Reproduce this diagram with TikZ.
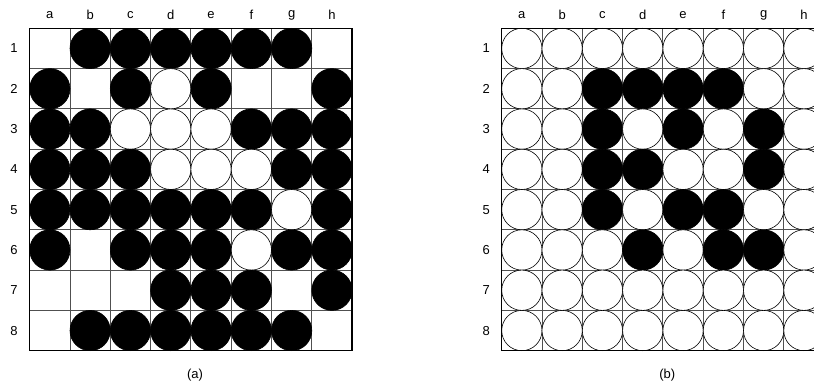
\documentclass[tikz,border=0pt]{standalone}
\usepackage{fontspec}
\setmainfont{Liberation Sans}
\definecolor{gridgray}{HTML}{505050}
\tikzset{
  blackpiece/.style={circle,draw=black,fill=black,line width=0.6pt,inner sep=0pt,minimum size=40.3pt},
  whitepiece/.style={circle,draw=black,fill=white,line width=0.6pt,inner sep=0pt,minimum size=40.3pt},
  gridline/.style={draw=gridgray,line width=0.9pt},
  border/.style={draw=black,line width=1.3pt},
  lbl/.style={font=\fontsize{13}{15}\selectfont,inner sep=0pt},
  captiontext/.style={font=\fontsize{13}{15}\selectfont,inner sep=0pt}
}
\begin{document}
\begin{tikzpicture}[x=1pt,y=-1pt]
\useasboundingbox (0,0) rectangle (814,385);
\clip (0,0) rectangle (814,385);
\def\cs{40.3}
% ---------- board (a) ----------
\def\xa{29.7}
\def\ya{28.3}
\foreach \i in {1,...,7}{
  \draw[gridline] (\xa+\i*\cs,\ya) -- (\xa+\i*\cs,\ya+8*\cs);
  \draw[gridline] (\xa,\ya+\i*\cs) -- (\xa+8*\cs,\ya+\i*\cs);
}
\foreach \r/\row in {1/{0,1,1,1,1,1,1,0},2/{1,0,1,2,1,0,0,1},3/{1,1,2,2,2,1,1,1},4/{1,1,1,2,2,2,1,1},5/{1,1,1,1,1,1,2,1},6/{1,0,1,1,1,2,1,1},7/{0,0,0,1,1,1,0,1},8/{0,1,1,1,1,1,1,0}}{
  \foreach \v [count=\c] in \row {
    \ifnum\v=1 \node[blackpiece] (A-\c-\r) at (\xa+\c*\cs-0.5*\cs,\ya+\r*\cs-0.5*\cs) {};\fi
    \ifnum\v=2 \node[whitepiece] (A-\c-\r) at (\xa+\c*\cs-0.5*\cs,\ya+\r*\cs-0.5*\cs) {};\fi
  }
}
\draw[border] (\xa,\ya) rectangle (\xa+8*\cs,\ya+8*\cs);
\foreach \l [count=\c] in {a,b,c,d,e,f,g,h}{
  \node[lbl] (AC-\c) at (\xa+\c*\cs-0.5*\cs,15) {\l};
}
\foreach \r in {1,...,8}{
  \node[lbl] (AR-\r) at (14,\ya+\r*\cs-0.5*\cs) {\r};
}
\node[captiontext] (capa) at (195,375) {(a)};
% ---------- board (b) ----------
\def\xb{501.7}
\foreach \i in {1,...,7}{
  \draw[gridline] (\xb+\i*\cs,\ya) -- (\xb+\i*\cs,\ya+8*\cs);
  \draw[gridline] (\xb,\ya+\i*\cs) -- (\xb+8*\cs,\ya+\i*\cs);
}
\foreach \r/\row in {1/{2,2,2,2,2,2,2,2},2/{2,2,1,1,1,1,2,2},3/{2,2,1,2,1,2,1,2},4/{2,2,1,1,2,2,1,2},5/{2,2,1,2,1,1,2,2},6/{2,2,2,1,2,1,1,2},7/{2,2,2,2,2,2,2,2},8/{2,2,2,2,2,2,2,2}}{
  \foreach \v [count=\c] in \row {
    \ifnum\v=1 \node[blackpiece] (B-\c-\r) at (\xb+\c*\cs-0.5*\cs,\ya+\r*\cs-0.5*\cs) {};\fi
    \ifnum\v=2 \node[whitepiece] (B-\c-\r) at (\xb+\c*\cs-0.5*\cs,\ya+\r*\cs-0.5*\cs) {};\fi
  }
}
\draw[border] (\xb,\ya) rectangle (\xb+8*\cs,\ya+8*\cs);
\foreach \l [count=\c] in {a,b,c,d,e,f,g,h}{
  \node[lbl] (BC-\c) at (\xb+\c*\cs-0.5*\cs,15) {\l};
}
\foreach \r in {1,...,8}{
  \node[lbl] (BR-\r) at (486.3,\ya+\r*\cs-0.5*\cs) {\r};
}
\node[captiontext] (capb) at (667.3,375) {(b)};
\end{tikzpicture}
\end{document}
